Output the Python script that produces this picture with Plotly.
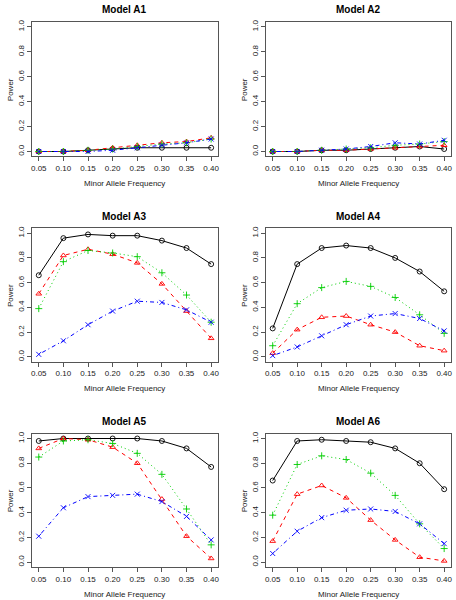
import plotly.graph_objects as go

maf = [0.05, 0.10, 0.15, 0.20, 0.25, 0.30, 0.35, 0.40]
x_ticks = ["0.05", "0.10", "0.15", "0.20", "0.25", "0.30", "0.35", "0.40"]
y_tickvals = [0.0, 0.2, 0.4, 0.6, 0.8, 1.0]
y_ticks = ["0.0", "0.2", "0.4", "0.6", "0.8", "1.0"]

titles = ["Model A1", "Model A2", "Model A3", "Model A4", "Model A5", "Model A6"]

black = [
    [0.00, 0.00, 0.01, 0.02, 0.03, 0.03, 0.03, 0.03],
    [0.00, 0.00, 0.01, 0.01, 0.02, 0.03, 0.04, 0.02],
    [0.66, 0.96, 0.99, 0.98, 0.98, 0.94, 0.88, 0.75],
    [0.23, 0.75, 0.88, 0.90, 0.88, 0.80, 0.69, 0.53],
    [0.98, 1.00, 1.00, 1.00, 1.00, 0.98, 0.92, 0.77],
    [0.66, 0.98, 0.99, 0.98, 0.97, 0.92, 0.80, 0.59],
]
red = [
    [0.00, 0.00, 0.01, 0.03, 0.05, 0.07, 0.08, 0.11],
    [0.00, 0.00, 0.01, 0.01, 0.02, 0.03, 0.04, 0.05],
    [0.51, 0.82, 0.87, 0.83, 0.76, 0.59, 0.37, 0.15],
    [0.03, 0.22, 0.32, 0.33, 0.26, 0.20, 0.09, 0.05],
    [0.92, 1.00, 0.99, 0.93, 0.80, 0.51, 0.21, 0.03],
    [0.17, 0.55, 0.62, 0.52, 0.34, 0.18, 0.04, 0.01],
]
green = [
    [0.00, 0.00, 0.01, 0.02, 0.04, 0.06, 0.07, 0.10],
    [0.00, 0.00, 0.01, 0.02, 0.03, 0.05, 0.06, 0.08],
    [0.39, 0.77, 0.86, 0.84, 0.81, 0.68, 0.50, 0.28],
    [0.09, 0.43, 0.56, 0.61, 0.57, 0.48, 0.34, 0.19],
    [0.85, 0.98, 0.99, 0.96, 0.88, 0.71, 0.43, 0.14],
    [0.38, 0.79, 0.86, 0.83, 0.72, 0.54, 0.31, 0.11],
]
blue = [
    [0.00, 0.00, 0.00, 0.01, 0.03, 0.05, 0.07, 0.10],
    [0.00, 0.00, 0.01, 0.02, 0.04, 0.07, 0.06, 0.09],
    [0.02, 0.13, 0.26, 0.37, 0.45, 0.44, 0.38, 0.28],
    [0.01, 0.08, 0.17, 0.26, 0.33, 0.35, 0.31, 0.21],
    [0.21, 0.44, 0.53, 0.54, 0.55, 0.49, 0.37, 0.18],
    [0.07, 0.25, 0.36, 0.42, 0.43, 0.41, 0.31, 0.15],
]

W, H = 456, 600
col_px = [(31, 218), (266, 452)]
row_px = [(20, 155), (227, 361), (433, 567)]

series = [
    (black, "#000000", "solid", "circle-open"),
    (red, "#FF0000", "4px,4px", "triangle-up-open"),
    (green, "#00CD00", "1px,3px", "cross-thin-open"),
    (blue, "#0000FF", "1px,3px,4px,3px", "x-thin-open"),
]

fig = go.Figure()
layout = {}
annotations = []
font = "Liberation Sans, Arial, sans-serif"

for i in range(6):
    r, c = divmod(i, 2)
    x0, x1 = col_px[c]
    y0, y1 = row_px[r]
    xa = "x" if i == 0 else f"x{i+1}"
    ya = "y" if i == 0 else f"y{i+1}"
    for data, color, dash, sym in series:
        fig.add_trace(go.Scatter(
            x=maf, y=data[i], mode="lines+markers", xaxis=xa, yaxis=ya,
            line=dict(color=color, width=1, dash=dash),
            marker=dict(symbol=sym, size=5, color=color, line=dict(width=0.9, color=color)),
            showlegend=False, hoverinfo="skip",
        ))
    common = dict(showline=True, mirror=True, linecolor="#555555", linewidth=1,
                  ticks="outside", ticklen=4, tickcolor="#555555", showgrid=False,
                  zeroline=False, tickfont=dict(family=font, size=8, color="#222222"))
    layout["xaxis" if i == 0 else f"xaxis{i+1}"] = dict(
        domain=[x0 / W, x1 / W], range=[0.036, 0.414], anchor=ya,
        tickvals=maf, ticktext=x_ticks, **common)
    layout["yaxis" if i == 0 else f"yaxis{i+1}"] = dict(
        domain=[1 - y1 / H, 1 - y0 / H], range=[-0.04, 1.04], anchor=xa,
        tickvals=y_tickvals, ticktext=y_ticks, tickangle=-90, **common)
    cx = (x0 + x1) / 2
    annotations.append(dict(text=f"<b>{titles[i]}</b>", x=cx / W, y=1 - (y0 - 12) / H,
                            xref="paper", yref="paper", showarrow=False,
                            font=dict(family=font, size=10, color="#000000"),
                            xanchor="center", yanchor="middle"))
    annotations.append(dict(text="Minor Allele Frequency", x=cx / W, y=1 - (y1 + 27) / H,
                            xref="paper", yref="paper", showarrow=False,
                            font=dict(family=font, size=8, color="#222222"),
                            xanchor="center", yanchor="middle"))
    annotations.append(dict(text="Power", x=(x0 - 22) / W, y=1 - ((y0 + y1) / 2) / H,
                            xref="paper", yref="paper", showarrow=False, textangle=-90,
                            font=dict(family=font, size=8, color="#222222"),
                            xanchor="center", yanchor="middle"))

fig.update_layout(width=W, height=H, margin=dict(l=0, r=0, t=0, b=0),
                  paper_bgcolor="white", plot_bgcolor="white",
                  annotations=annotations, **layout)
fig.write_html("out.html", config={"displayModeBar": False},
               post_script="document.body.style.margin='0';document.body.style.overflow='hidden';")
